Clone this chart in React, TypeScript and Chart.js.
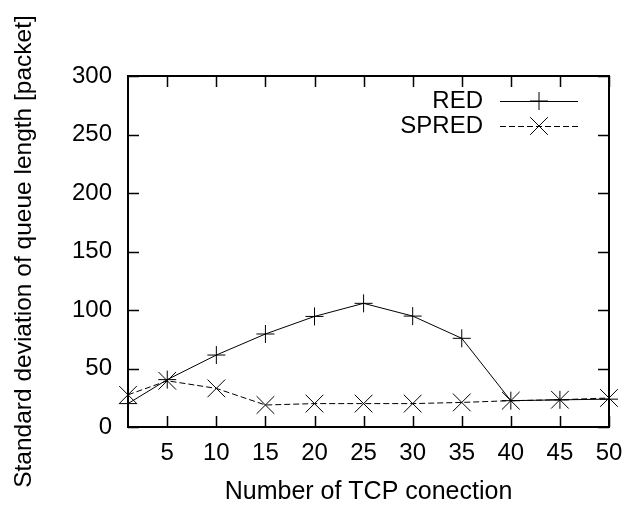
import React, { useEffect, useRef } from "react";
import { Chart, registerables } from "chart.js";

Chart.register(...registerables);

const connections = [1, 5, 10, 15, 20, 25, 30, 35, 40, 45, 50];
const redValues = [20, 40.5, 61.5, 79.5, 94.5, 105.7, 94.8, 75.8, 22.5, 23.2, 23.8];
const spredValues = [27.5, 39.5, 33, 18.8, 20, 20, 20, 21, 22.5, 23.3, 24.8];
const xTickValues = [5, 10, 15, 20, 25, 30, 35, 40, 45, 50];
const yTickValues = [0, 50, 100, 150, 200, 250, 300];
const seriesNames = ["RED", "SPRED"];

const FONT = "'Liberation Sans', Arial, Helvetica, sans-serif";

const framePlugin = {
  id: "gnuplotFrame",
  afterDraw(chart: any) {
    const { ctx, chartArea } = chart;
    const { left, right, top, bottom } = chartArea;
    const xs = chart.scales.x;
    const ys = chart.scales.y;
    const tl = 11;
    ctx.save();
    ctx.strokeStyle = "#000";
    ctx.lineWidth = 2;
    ctx.strokeRect(left, top, right - left, bottom - top);
    ctx.lineWidth = 1.5;
    ctx.beginPath();
    xs.ticks.forEach((t: any) => {
      const px = Math.round(xs.getPixelForValue(t.value)) + 0.5;
      ctx.moveTo(px, bottom);
      ctx.lineTo(px, bottom - tl);
      ctx.moveTo(px, top);
      ctx.lineTo(px, top + tl);
    });
    ys.ticks.forEach((t: any) => {
      const py = Math.round(ys.getPixelForValue(t.value)) + 0.5;
      ctx.moveTo(left, py);
      ctx.lineTo(left + tl, py);
      ctx.moveTo(right, py);
      ctx.lineTo(right - tl, py);
    });
    ctx.stroke();

    // legend (gnuplot style: text right-aligned, sample to the right)
    const textRight = 483;
    const sx0 = 500;
    const sx1 = 578;
    const rows = [101, 126];
    ctx.font = `24px ${FONT}`;
    ctx.fillStyle = "#000";
    ctx.textAlign = "right";
    ctx.textBaseline = "middle";
    chart.data.datasets.forEach((ds: any, i: number) => {
      const y = rows[i];
      ctx.fillText(ds.label, textRight, y);
      ctx.lineWidth = 1;
      ctx.setLineDash(ds.borderDash || []);
      ctx.beginPath();
      ctx.moveTo(sx0, y + 0.5);
      ctx.lineTo(sx1, y + 0.5);
      ctx.stroke();
      ctx.setLineDash([]);
      const cx = (sx0 + sx1) / 2;
      ctx.beginPath();
      if (ds.pointStyle === "cross") {
        const r = ds.pointRadius;
        ctx.moveTo(cx - r, y);
        ctx.lineTo(cx + r, y);
        ctx.moveTo(cx, y - r);
        ctx.lineTo(cx, y + r);
      } else {
        const r = ds.pointRadius * Math.SQRT1_2;
        ctx.moveTo(cx - r, y - r);
        ctx.lineTo(cx + r, y + r);
        ctx.moveTo(cx + r, y - r);
        ctx.lineTo(cx - r, y + r);
      }
      ctx.stroke();
    });
    ctx.restore();
  },
};

export default function App() {
  const canvasRef = useRef<HTMLCanvasElement>(null);

  useEffect(() => {
    const canvas = canvasRef.current;
    if (!canvas) return;
    const chart = new Chart(canvas, {
      type: "line",
      data: {
        datasets: [
          {
            label: seriesNames[0],
            data: connections.map((x, i) => ({ x, y: redValues[i] })),
            borderColor: "#000",
            backgroundColor: "#000",
            borderWidth: 1,
            pointStyle: "cross",
            pointRadius: 9,
            pointBorderWidth: 1,
            pointBorderColor: "#000",
            fill: false,
            tension: 0,
            clip: false,
          } as any,
          {
            label: seriesNames[1],
            data: connections.map((x, i) => ({ x, y: spredValues[i] })),
            borderColor: "#000",
            backgroundColor: "#000",
            borderWidth: 1,
            borderDash: [6, 3],
            pointStyle: "crossRot",
            pointRadius: 12.5,
            pointBorderWidth: 1,
            pointBorderColor: "#000",
            fill: false,
            tension: 0,
            clip: false,
          } as any,
        ],
      },
      options: {
        responsive: false,
        animation: false,
        devicePixelRatio: 1,
        layout: { padding: { left: 0, right: 33, top: 76, bottom: 0 } },
        plugins: {
          legend: { display: false },
          tooltip: { enabled: false },
        },
        scales: {
          x: {
            type: "linear",
            min: 1,
            max: 50,
            afterBuildTicks: (scale: any) => {
              scale.ticks = xTickValues.map((v) => ({ value: v }));
            },
            afterFit: (scale: any) => {
              scale.height = 79;
            },
            grid: { display: false, drawTicks: false },
            border: { display: false },
            ticks: {
              padding: 12,
              color: "#000",
              font: { family: FONT, size: 24 },
              maxRotation: 0,
              autoSkip: false,
            },
            title: {
              display: true,
              text: "Number of TCP conection",
              color: "#000",
              font: { family: FONT, size: 25 },
              padding: { top: 0, bottom: -1 },
            },
          },
          y: {
            type: "linear",
            min: 0,
            max: 300,
            afterBuildTicks: (scale: any) => {
              scale.ticks = yTickValues.map((v) => ({ value: v }));
            },
            afterFit: (scale: any) => {
              scale.width = 128;
            },
            grid: { display: false, drawTicks: false },
            border: { display: false },
            ticks: {
              padding: 16,
              color: "#000",
              font: { family: FONT, size: 24 },
              autoSkip: false,
            },
            title: {
              display: true,
              text: "Standard deviation of queue length [packet]",
              color: "#000",
              font: { family: FONT, size: 24.5 },
              padding: { top: 10, bottom: 0 },
            },
          },
        },
      },
      plugins: [framePlugin],
    });
    return () => chart.destroy();
  }, []);

  return (
    <div style={{ position: "fixed", left: 0, top: 0, width: 642, height: 506, background: "#fff" }}>
      <canvas ref={canvasRef} width={642} height={506} style={{ width: 642, height: 506, display: "block" }} />
    </div>
  );
}
